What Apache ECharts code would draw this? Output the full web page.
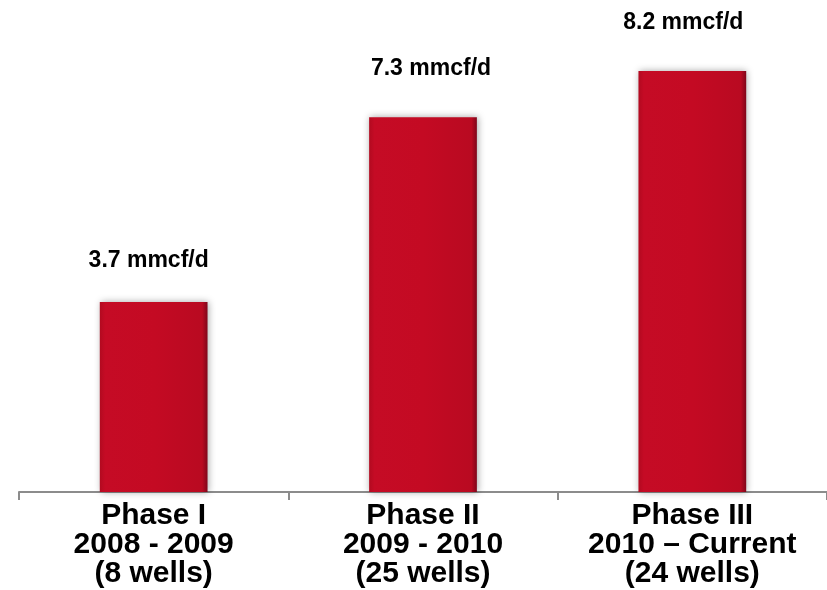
<!DOCTYPE html>
<html>
<head>
<meta charset="utf-8">
<script src="https://cdn.jsdelivr.net/npm/echarts@6/dist/echarts.min.js"></script>
<style>
  html, body { margin: 0; padding: 0; background: #fff; }
  #chart { width: 827px; height: 590px; }
</style>
</head>
<body>
<div id="chart"></div>
<script>
const categories = [
  "Phase I\n2008 - 2009\n(8 wells)",
  "Phase II\n2009 - 2010\n(25 wells)",
  "Phase III\n2010 \u2013 Current\n(24 wells)"
];
const rates = [3.7, 7.3, 8.2];
const labelOffsets = [[-5, -6], [8, -13], [-9, -13]];

const myChart = echarts.init(document.getElementById("chart"));

const barColor = new echarts.graphic.LinearGradient(0, 0, 1, 0, [
  { offset: 0, color: "#b20a20" },
  { offset: 0.05, color: "#c50b25" },
  { offset: 0.5, color: "#c40a23" },
  { offset: 0.95, color: "#b90a21" },
  { offset: 1, color: "#80061a" }
]);

const option = {
  animation: false,
  grid: {
    left: 19,
    width: 813,
    top: 30,
    bottom: 98
  },
  xAxis: {
    type: "category",
    data: categories,
    axisLine: { lineStyle: { color: "#8c8c8c", width: 2 } },
    axisTick: { show: true, interval: 0, length: 8, lineStyle: { color: "#8c8c8c", width: 2 } },
    axisLabel: {
      interval: 0,
      hideOverlap: false,
      color: "#000",
      fontFamily: "Liberation Sans",
      fontWeight: "bold",
      fontSize: 30,
      lineHeight: 29,
      margin: 9
    }
  },
  yAxis: {
    type: "value",
    min: 0,
    max: 9,
    show: false
  },
  series: [
    {
      type: "bar",
      barWidth: "40%",
      data: rates.map((v, i) => ({
        value: v,
        label: { offset: labelOffsets[i] }
      })),
      itemStyle: {
        color: barColor,
        shadowColor: "rgba(0,0,0,0.35)",
        shadowBlur: 7,
        shadowOffsetX: 1
      },
      label: {
        show: true,
        position: "top",
        distance: 24,
        formatter: (p) => p.value + " mmcf/d",
        color: "#000",
        fontFamily: "Liberation Sans",
        fontWeight: "bold",
        fontSize: 23
      }
    }
  ]
};

myChart.setOption(option);
</script>
</body>
</html>
